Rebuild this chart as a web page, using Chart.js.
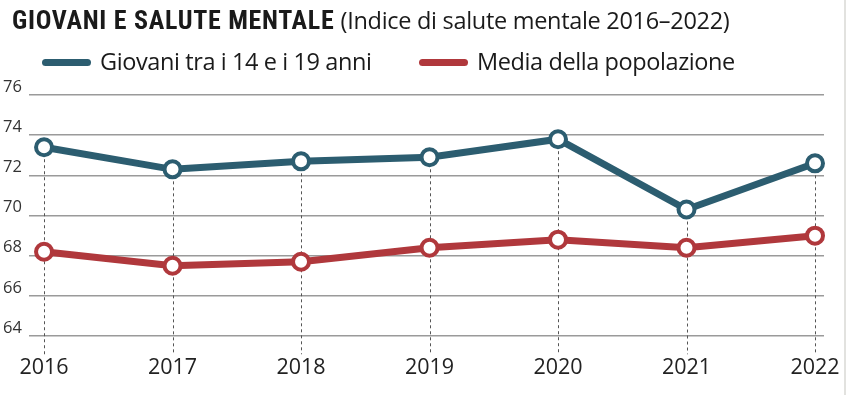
<!DOCTYPE html>
<html lang="it">
<head>
  <meta charset="UTF-8">
  <title>Giovani e salute mentale</title>
  <style>
    body {
      margin: 0;
      background: #fff;
      font-family: "Open Sans", sans-serif;
    }
    #wrap {
      position: relative;
      width: 846px;
      height: 395px;
      overflow: hidden;
      border-right: 2px solid #e2e2df;
      box-sizing: border-box;
    }
    #title {
      position: absolute;
      left: 12px;
      top: 4px;
      color: #1a1a1a;
      white-space: nowrap;
    }
    #title b {
      font-family: "Liberation Sans Narrow", "Roboto Condensed", Roboto, sans-serif;
      font-weight: bold;
      font-size: 26px;
      letter-spacing: 0.7px;
    }
    #title span {
      font-family: "Open Sans", sans-serif;
      font-size: 23.5px;
      letter-spacing: -0.3px;
      margin-left: 2px;
    }
    .leg {
      position: absolute;
      top: 45px;
      font-size: 23.5px;
      color: #1a1a1a;
      white-space: nowrap;
      letter-spacing: -0.4px;
    }
    .leg i {
      display: inline-block;
      width: 49px;
      height: 7px;
      border-radius: 4px;
      vertical-align: middle;
      margin-right: 9px;
      position: relative;
      top: -1px;
    }
    #chart {
      position: absolute;
      left: 0;
      top: 0;
    }
  </style>
  <script src="https://cdn.jsdelivr.net/npm/chart.js"></script>
</head>
<body>
  <div id="wrap">
    <canvas id="chart" width="846" height="395"></canvas>
    <div id="title"><b>GIOVANI E SALUTE MENTALE</b> <span>(Indice di salute mentale 2016–2022)</span></div>
    <div class="leg" id="leg1" style="left:42px"><i></i><span></span></div>
    <div class="leg" id="leg2" style="left:419px"><i></i><span></span></div>
  </div>

  <script>
    const years = [2016, 2017, 2018, 2019, 2020, 2021, 2022];
    const seriesNames = ['Giovani tra i 14 e i 19 anni', 'Media della popolazione'];
    const giovani = [73.4, 72.3, 72.7, 72.9, 73.8, 70.3, 72.6];
    const media = [68.2, 67.5, 67.7, 68.4, 68.8, 68.4, 69.0];
    const yTicks = [64, 66, 68, 70, 72, 74, 76];

    const blue = '#2c5d70';
    const red = '#b0383c';

    // legend built from series names
    [['leg1', seriesNames[0], blue], ['leg2', seriesNames[1], red]].forEach(([id, name, col]) => {
      const el = document.getElementById(id);
      el.querySelector('i').style.background = col;
      el.querySelector('span').textContent = name;
    });

    // dashed drop lines from each year's top point down to the bottom of the plot
    const dropLines = {
      id: 'dropLines',
      beforeDatasetsDraw(chart) {
        const { ctx, chartArea, scales } = chart;
        ctx.save();
        ctx.strokeStyle = '#555';
        ctx.lineWidth = 1;
        ctx.setLineDash([3, 3]);
        years.forEach((yr, i) => {
          const x = Math.round(scales.x.getPixelForValue(yr)) + 0.5;
          const top = scales.y.getPixelForValue(Math.max(giovani[i], media[i]));
          ctx.beginPath();
          ctx.moveTo(x, top);
          ctx.lineTo(x, chartArea.bottom);
          ctx.stroke();
        });
        ctx.restore();
      }
    };

    const toPoints = (vals) => years.map((yr, i) => ({ x: yr, y: vals[i] }));

    const lineStyle = (col) => ({
      borderColor: col,
      borderWidth: 7,
      pointRadius: 8,
      pointBorderWidth: 4,
      pointBackgroundColor: '#fff',
      pointBorderColor: col,
      fill: false,
      tension: 0
    });

    new Chart(document.getElementById('chart'), {
      type: 'line',
      data: {
        datasets: [
          Object.assign({ label: seriesNames[0], data: toPoints(giovani) }, lineStyle(blue)),
          Object.assign({ label: seriesNames[1], data: toPoints(media) }, lineStyle(red))
        ]
      },
      options: {
        responsive: false,
        animation: false,
        clip: false,
        layout: { padding: { top: 95, left: 3, right: 22, bottom: 13 } },
        plugins: {
          legend: { display: false },
          tooltip: { enabled: false }
        },
        scales: {
          x: {
            type: 'linear',
            min: 2015.883,
            max: 2022.07,
            border: { display: false },
            grid: { display: false, drawTicks: false },
            afterBuildTicks: (axis) => { axis.ticks = years.map(v => ({ value: v })); },
            ticks: {
              callback: (v) => String(v),
              color: '#222',
              padding: 1,
              maxRotation: 0,
              font: { family: 'Open Sans', size: 21.5 }
            }
          },
          y: {
            min: 63.1,
            max: 76,
            border: { display: false },
            afterBuildTicks: (axis) => { axis.ticks = yTicks.map(v => ({ value: v })); },
            afterFit: (axis) => { axis.width = 26; },
            grid: {
              color: '#9a9a9a',
              lineWidth: 1.5,
              drawTicks: false
            },
            ticks: {
              color: '#333',
              padding: 7,
              labelOffset: -8,
              crossAlign: 'far',
              font: { family: 'Open Sans', size: 16.5 }
            }
          }
        }
      },
      plugins: [dropLines]
    });
  </script>
</body>
</html>
